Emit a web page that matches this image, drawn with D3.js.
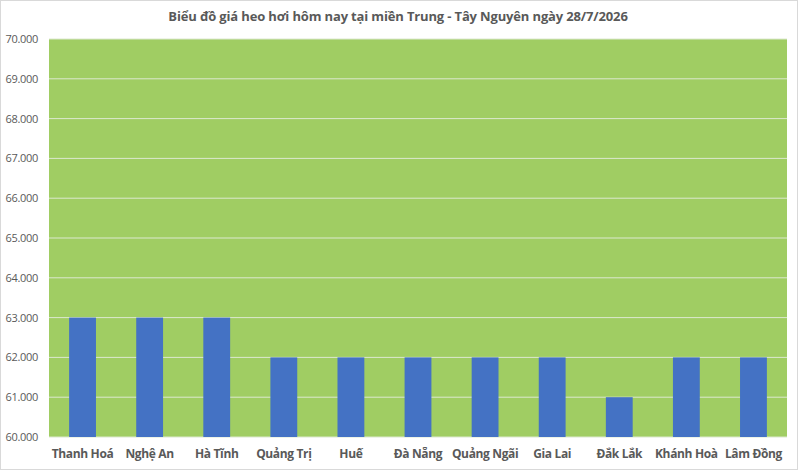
<!DOCTYPE html>
<html>
<head>
<meta charset="utf-8">
<script src="https://cdn.jsdelivr.net/npm/d3@7"></script>
<style>
  body { margin: 0; background: #fff; }
  svg text { font-family: "Open Sans", "Noto Sans", sans-serif; }
</style>
</head>
<body>
<svg id="chart" width="800" height="471"></svg>
<script>
const provinces = ["Thanh Hoá", "Nghệ An", "Hà Tĩnh", "Quảng Trị", "Huế", "Đà Nẵng", "Quảng Ngãi", "Gia Lai", "Đắk Lắk", "Khánh Hoà", "Lâm Đồng"]
const prices = [63000, 63000, 63000, 62000, 62000, 62000, 62000, 62000, 61000, 62000, 62000]
const yTicks = [60000, 61000, 62000, 63000, 64000, 65000, 66000, 67000, 68000, 69000, 70000]
const title = "Biểu đồ giá heo hơi hôm nay tại miền Trung - Tây Nguyên ngày 28/7/2026"

const svg = d3.select('#chart')
const margin = { top: 39, right: 13, bottom: 34, left: 49 }
const width = 800 - margin.left - margin.right
const height = 471 - margin.top - margin.bottom

// outer chart frame
svg.append('rect')
  .attr('x', 0.5).attr('y', 0.5)
  .attr('width', 797).attr('height', 469)
  .style('fill', 'none')
  .style('stroke', '#d9d9d9')

const g = svg.append('g').attr('transform', `translate(${margin.left},${margin.top})`)

const x = d3.scaleBand().domain(provinces).range([0, width]).paddingInner(0.6).paddingOuter(0.3)
const y = d3.scaleLinear().domain([60000, 70000]).range([height, 0])

g.append('rect')
  .attr('width', width).attr('height', height)
  .style('fill', '#a0cd63')

// gridlines
g.selectAll('.grid')
  .data(yTicks)
  .enter().append('line')
  .attr('x1', 0).attr('x2', width)
  .attr('y1', d => y(d)).attr('y2', d => y(d))
  .style('stroke', '#dce8cf')
  .style('stroke-width', 1)

g.selectAll('.bar')
  .data(prices)
  .enter().append('rect')
  .attr('x', (d, i) => x(provinces[i]))
  .attr('y', d => y(d))
  .attr('width', x.bandwidth())
  .attr('height', d => height - y(d))
  .style('fill', '#4472c4')

const yAxis = g.append('g')
  .call(d3.axisLeft(y).tickValues(yTicks).tickSize(0).tickPadding(11).tickFormat(d => (d / 1000).toFixed(3)))
yAxis.select('.domain').remove()
yAxis.selectAll('text')
  .style('font-size', '11px')
  .style('letter-spacing', '-0.3px')
  .style('fill', '#595959')

const xAxis = g.append('g')
  .attr('transform', `translate(0,${height})`)
  .call(d3.axisBottom(x).tickSize(0).tickPadding(12))
xAxis.select('.domain').remove()
xAxis.selectAll('text')
  .style('font-size', '12px')
  .style('letter-spacing', '-0.35px')
  .style('font-weight', 'bold')
  .style('fill', '#595959')

svg.append('text')
  .attr('x', 398).attr('y', 21)
  .attr('text-anchor', 'middle')
  .style('font-size', '13px')
  .style('letter-spacing', '-0.15px')
  .style('font-weight', 'bold')
  .style('fill', '#595959')
  .text(title)
</script>
</body>
</html>
